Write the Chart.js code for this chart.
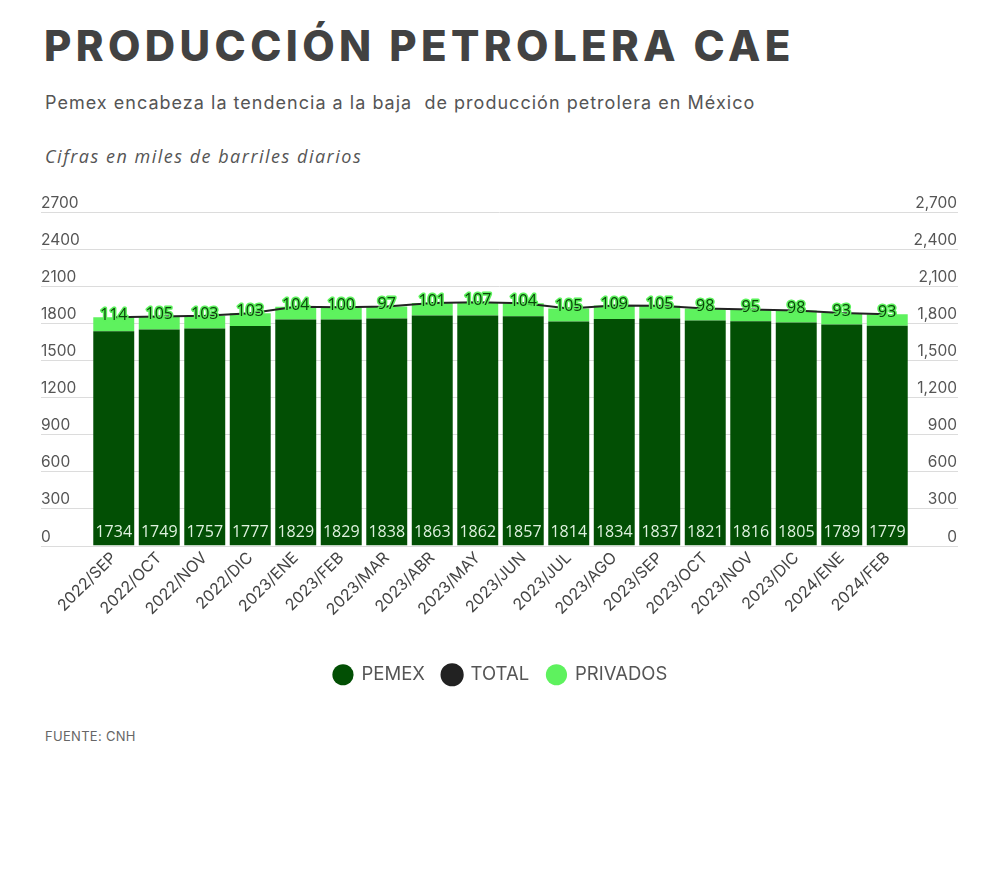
<!DOCTYPE html>
<html lang="es">
<head>
<meta charset="utf-8">
<title>Producción petrolera cae</title>
<script src="https://cdn.jsdelivr.net/npm/chart.js@4"></script>
<style>
  html, body { margin: 0; padding: 0; background: #fff; }
  body { width: 1000px; height: 884px; position: relative; font-family: Inter, 'Open Sans', sans-serif; }
  .title { position: absolute; left: 44px; top: 20px; font-size: 42px; font-weight: 800; color: #424242; letter-spacing: 4.4px; }
  .subtitle { position: absolute; left: 45px; top: 92px; font-size: 18px; color: #555; letter-spacing: 1.02px; }
  .note { position: absolute; left: 45px; top: 144px; font-size: 18px; font-style: italic; color: #555; font-family: 'Open Sans', sans-serif; letter-spacing: 1.5px; }
  .source { position: absolute; left: 45px; top: 728px; font-size: 13px; color: #666; letter-spacing: 0.3px; }
  .chart-box { position: absolute; left: 0; top: 190px; width: 1000px; height: 520px; }
</style>
</head>
<body>
<div class="title">PRODUCCIÓN PETROLERA CAE</div>
<div class="subtitle">Pemex encabeza la tendencia a la baja&nbsp; de producción petrolera en México</div>
<div class="note">Cifras en miles de barriles diarios</div>
<div class="chart-box"><canvas id="oilChart"></canvas></div>
<div class="source">FUENTE: CNH</div>

<script>
const months = ['2022/SEP', '2022/OCT', '2022/NOV', '2022/DIC', '2023/ENE', '2023/FEB', '2023/MAR', '2023/ABR', '2023/MAY',
  '2023/JUN', '2023/JUL', '2023/AGO', '2023/SEP', '2023/OCT', '2023/NOV', '2023/DIC', '2024/ENE', '2024/FEB'];
const pemex = [1734, 1749, 1757, 1777, 1829, 1829, 1838, 1863, 1862, 1857, 1814, 1834, 1837, 1821, 1816, 1805, 1789, 1779];
const privados = [114, 105, 103, 103, 104, 100, 97, 101, 107, 104, 105, 109, 105, 98, 95, 98, 93, 93];
const total = [1848, 1854, 1860, 1880, 1933, 1929, 1935, 1964, 1969, 1961, 1919, 1943, 1942, 1919, 1911, 1903, 1882, 1872];
const yTicks = [0, 300, 600, 900, 1200, 1500, 1800, 2100, 2400, 2700];

const gridAndLabels = {
  id: 'gridAndLabels',
  beforeDatasetsDraw(chart) {
    const ctx = chart.ctx;
    const y = chart.scales.y;
    ctx.save();
    ctx.font = '15.5px Inter, sans-serif';
    ctx.fillStyle = '#555';
    ctx.textBaseline = 'alphabetic';
    yTicks.forEach((v) => {
      const py = Math.round(y.getPixelForValue(v)) + 0.5;
      ctx.strokeStyle = '#dcdcdc';
      ctx.lineWidth = 1;
      ctx.beginPath();
      ctx.moveTo(41, py);
      ctx.lineTo(958, py);
      ctx.stroke();
      ctx.textAlign = 'left';
      ctx.fillText(String(v), 41, py - 5);
      ctx.textAlign = 'right';
      ctx.fillText(v.toLocaleString('en-US'), 957, py - 5);
    });
    ctx.restore();
  },
  afterDatasetsDraw(chart) {
    const ctx = chart.ctx;
    const pemexMeta = chart.getDatasetMeta(0);
    const privMeta = chart.getDatasetMeta(2);
    ctx.save();
    ctx.textAlign = 'center';
    ctx.textBaseline = 'alphabetic';
    ctx.font = '16px "Open Sans", sans-serif';
    ctx.fillStyle = '#dff2df';
    pemexMeta.data.forEach((bar, i) => {
      ctx.fillText(String(pemex[i]), bar.x, bar.base - 9);
    });
    ctx.font = '16px "Open Sans", sans-serif';
    ctx.lineJoin = 'round';
    privMeta.data.forEach((bar, i) => {
      const ty = bar.y + 3;
      ctx.strokeStyle = '#5cf25c';
      ctx.lineWidth = 3;
      ctx.strokeText(String(privados[i]), bar.x, ty);
      ctx.fillStyle = '#0b450b';
      ctx.fillText(String(privados[i]), bar.x, ty);
    });
    ctx.restore();
  }
};

document.addEventListener('DOMContentLoaded', () => {
  const canvas = document.getElementById('oilChart');
  new Chart(canvas.getContext('2d'), {
    type: 'bar',
    data: {
      labels: months,
      datasets: [
        {
          label: 'PEMEX',
          data: pemex,
          backgroundColor: '#024f04',
          barPercentage: 0.9,
          categoryPercentage: 1,
          stack: 'bars',
          order: 2,
        },
        {
          type: 'line',
          label: 'TOTAL',
          data: total,
          borderColor: '#222',
          backgroundColor: '#222',
          pointBackgroundColor: '#222',
          pointBorderColor: '#222',
          borderWidth: 2,
          pointRadius: 0,
          tension: 0,
          stack: 'total',
          order: 0,
        },
        {
          label: 'PRIVADOS',
          data: privados,
          backgroundColor: '#5ef25e',
          barPercentage: 0.9,
          categoryPercentage: 1,
          stack: 'bars',
          order: 2,
        },
      ],
    },
    options: {
      responsive: true,
      maintainAspectRatio: false,
      animation: false,
      layout: { padding: { left: 91, right: 90, top: 22, bottom: 16 } },
      plugins: {
        legend: {
          position: 'bottom',
          labels: {
            usePointStyle: true,
            pointStyle: 'circle',
            boxHeight: 15,
            padding: 18,
            color: '#555',
            font: { size: 18.5, family: 'Inter, sans-serif' },
            sort: (a, b) => a.datasetIndex - b.datasetIndex,
          },
        },
        tooltip: { enabled: false },
      },
      scales: {
        x: {
          stacked: true,
          grid: { display: false, drawTicks: false },
          border: { display: false },
          ticks: {
            color: '#444',
            font: { size: 16, family: 'Inter, sans-serif' },
            minRotation: 45,
            maxRotation: 45,
            padding: 3,
            autoSkip: false,
          },
          afterFit: (scale) => { scale.height = 102; },
        },
        y: {
          display: false,
          stacked: true,
          min: 0,
          max: 2700,
        },
      },
    },
    plugins: [gridAndLabels],
  });
});
</script>
</body>
</html>
